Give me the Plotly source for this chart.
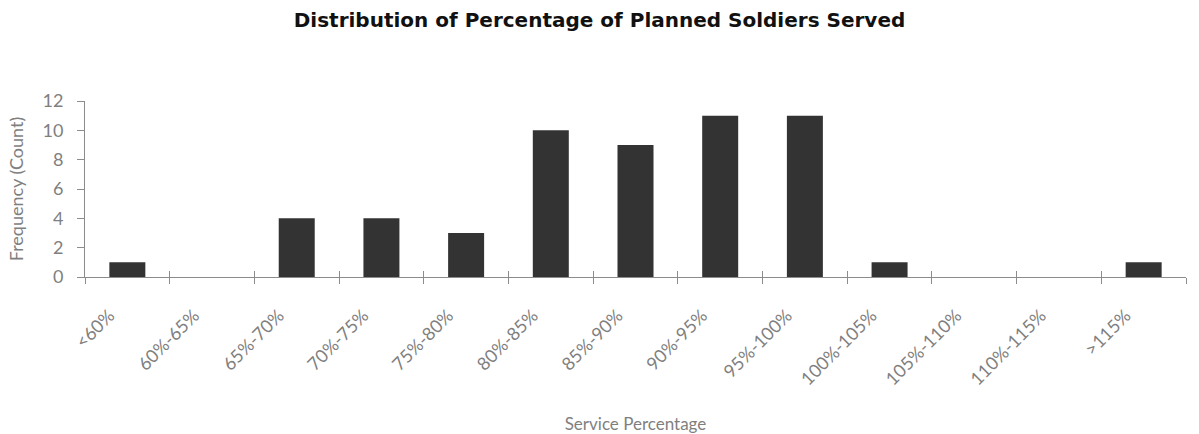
import plotly.graph_objects as go

categories = ["<60%", "60%-65%", "65%-70%", "70%-75%", "75%-80%", "80%-85%", "85%-90%",
              "90%-95%", "95%-100%", "100%-105%", "105%-110%", "110%-115%", ">115%"]
counts = [1, 0, 4, 4, 3, 10, 9, 11, 11, 1, 0, 0, 1]
y_ticks = [0, 2, 4, 6, 8, 10, 12]

gray = "#7f7f7f"
axis_col = "#8c8c8c"
font_family = "Lato, 'Open Sans', sans-serif"
x_range = [-0.5, len(categories) - 0.5]

fig = go.Figure()
fig.add_trace(go.Bar(x=categories, y=counts, marker=dict(color="#333333", line=dict(width=0)),
                     hoverinfo="x+y"))
# invisible trace on an overlay axis to draw the inner half of the crossing ticks
fig.add_trace(go.Scatter(x=categories, y=[0] * len(categories), xaxis="x2", mode="markers",
                         marker=dict(opacity=0), hoverinfo="skip", showlegend=False))

fig.update_layout(
    width=1199, height=434,
    margin=dict(l=85, r=13, t=101, b=157),
    paper_bgcolor="white", plot_bgcolor="white",
    showlegend=False,
    bargap=0.575,
    font=dict(family=font_family, color=gray, size=18),
    title=dict(text="<b>Distribution of Percentage of Planned Soldiers Served</b>",
               x=0.5, xanchor="center", y=0.953, yanchor="middle",
               font=dict(family="'DejaVu Sans', sans-serif", size=20, color="#111111")),
    xaxis=dict(
        type="category", categoryorder="array", categoryarray=categories, range=x_range,
        tickson="boundaries", ticks="outside", ticklen=6, tickcolor=axis_col, tickwidth=1,
        showline=True, linecolor=axis_col, linewidth=1, showgrid=False, zeroline=False,
        tickangle=-45, tickfont=dict(size=18, color=gray), ticklabelstandoff=20,
        ticklabelshift=-18, automargin=False,
        title=dict(text="Service Percentage", font=dict(size=17, color=gray), standoff=34),
    ),
    xaxis2=dict(
        type="category", categoryorder="array", categoryarray=categories, range=x_range,
        overlaying="x", side="bottom",
        tickson="boundaries", ticks="inside", ticklen=6, tickcolor=axis_col, tickwidth=1,
        showticklabels=False, showline=False, showgrid=False, zeroline=False,
    ),
    yaxis=dict(
        range=[0, 12], tickvals=y_ticks, ticks="outside", ticklen=7, tickcolor=axis_col,
        showline=True, linecolor=axis_col, linewidth=1, showgrid=False, zeroline=False,
        tickfont=dict(size=18, color=gray), ticklabelstandoff=10, automargin=False,
        title=dict(text="Frequency (Count)", font=dict(size=18, color=gray), standoff=14),
    ),
)

fig.write_html("out.html")
